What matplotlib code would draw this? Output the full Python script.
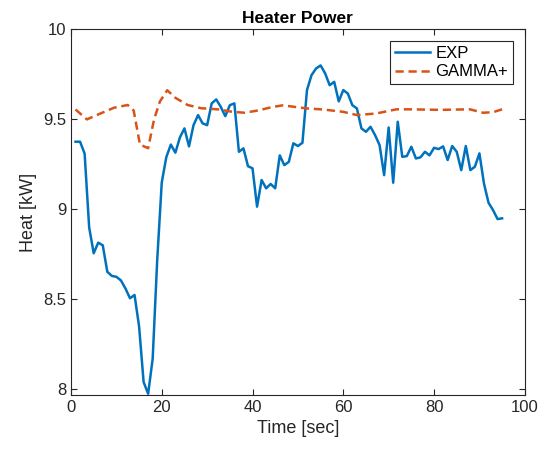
import matplotlib
matplotlib.use('Agg')
import matplotlib.pyplot as plt
import numpy as np

plt.rcParams['font.family'] = ['Liberation Sans', 'DejaVu Sans']

# EXP Messwerte (1 s Raster)
exp_t = np.arange(1, 96)
exp_q = [9.376, 9.376, 9.31, 8.90, 8.756, 8.815, 8.80, 8.653, 8.63, 8.625,
         8.605, 8.56, 8.506, 8.524, 8.35, 8.04, 7.975, 8.17, 8.72, 9.15,
         9.29, 9.36, 9.315, 9.40, 9.45, 9.35, 9.468, 9.524, 9.478, 9.468,
         9.589, 9.611, 9.57, 9.518, 9.579, 9.589, 9.32, 9.339, 9.24, 9.228,
         9.015, 9.163, 9.117, 9.141, 9.117, 9.30, 9.246, 9.264, 9.367, 9.352,
         9.37, 9.663, 9.746, 9.783, 9.80, 9.756, 9.69, 9.709, 9.60, 9.663,
         9.644, 9.579, 9.561, 9.45, 9.431, 9.459, 9.413, 9.357, 9.19, 9.455,
         9.148, 9.487, 9.292, 9.296, 9.348, 9.283, 9.289, 9.32, 9.30, 9.342,
         9.335, 9.35, 9.274, 9.352, 9.32, 9.218, 9.352, 9.218, 9.237, 9.311,
         9.144, 9.037, 8.996, 8.946, 8.95]

# GAMMA+ Simulation
gam_t = [1, 3.5, 6.5, 9.5, 12.5, 13.8, 15.2, 17, 18.3, 19.6, 21.2, 23, 25.7,
         28.7, 32.3, 35.6, 38.3, 41.3, 44.2, 46.6, 49.2, 52, 55.6, 60, 63,
         67.3, 71.7, 74.7, 81.3, 87.9, 90.8, 93, 95]
gam_q = [9.555, 9.50, 9.533, 9.565, 9.58, 9.55, 9.36, 9.34, 9.50, 9.60,
         9.662, 9.62, 9.58, 9.562, 9.556, 9.542, 9.537, 9.55, 9.568, 9.578,
         9.57, 9.561, 9.555, 9.542, 9.524, 9.533, 9.556, 9.556, 9.553, 9.556,
         9.537, 9.54, 9.556]

fig = plt.figure(figsize=(5.53, 4.53), dpi=100)
ax = fig.add_axes([0.1284, 0.128, 0.8206, 0.807])

ax.plot(exp_t, exp_q, color='#0072BD', linewidth=1.8, label='EXP')
ax.plot(gam_t, gam_q, color='#D95319', linewidth=1.8, linestyle=(0, (3.3, 1.9)),
        label='GAMMA+')

ax.set_xlim(0, 100)
ax.set_ylim(7.968, 10)
ax.set_xticks([0, 20, 40, 60, 80, 100])
ax.set_yticks([8, 8.5, 9, 9.5, 10])
ax.set_yticklabels(['8', '8.5', '9', '9.5', '10'])

for s in ax.spines.values():
    s.set_color('#262626')
    s.set_linewidth(0.8)
ax.tick_params(direction='in', length=4, width=0.8, colors='#262626',
               labelsize=12, top=True, right=True)

ax.set_xlabel('Time [sec]', fontsize=13, color='#262626')
ax.set_ylabel('Heat [kW]', fontsize=13, color='#262626')
ax.set_title('Heater Power', fontsize=12.5, fontweight='bold', pad=5)

leg = ax.legend(loc='upper right', fontsize=12, fancybox=False, framealpha=1,
                edgecolor='#262626', borderaxespad=0.7, handlelength=2.1,
                borderpad=0.3, labelspacing=0.2, handletextpad=0.3)
leg.get_frame().set_linewidth(0.8)

fig.savefig('out.png', dpi=100, facecolor='white')
